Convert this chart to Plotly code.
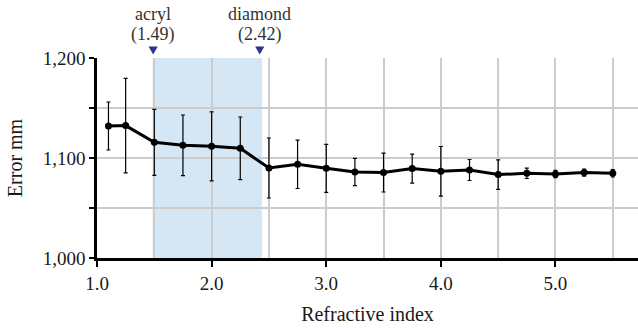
import plotly.graph_objects as go

# Refractive index sweep and measured error (mm) with standard deviation
refractive_index = [1.1, 1.25, 1.5, 1.75, 2.0, 2.25, 2.5, 2.75, 3.0, 3.25, 3.5,
                    3.75, 4.0, 4.25, 4.5, 4.75, 5.0, 5.25, 5.5]
error_mm = [1132.0, 1132.4, 1115.7, 1112.7, 1111.7, 1109.7, 1090.0, 1093.7, 1089.7,
            1086.0, 1085.4, 1089.4, 1086.7, 1088.0, 1083.4, 1084.7, 1084.0, 1085.4, 1084.7]
error_sd = [24.0, 47.2, 33.0, 30.3, 34.5, 31.3, 30.0, 24.2, 24.0,
            13.7, 19.4, 14.5, 24.8, 10.5, 14.7, 5.2, 3.7, 3.5, 3.7]

# Reference materials marked above the plot
materials = ["acryl", "diamond"]
material_index = [1.49, 2.42]
band_range = [1.485, 2.44]

x_tickvals = [1.0, 2.0, 3.0, 4.0, 5.0]
x_ticktext = ["1.0", "2.0", "3.0", "4.0", "5.0"]
y_tickvals = [1000, 1050, 1100, 1150, 1200]
y_ticktext = ["1,000", "", "1,100", "", "1,200"]

FONT = "Liberation Serif"
GRID = "#cccccc"
MARK_BLUE = "#2E3192"

fig = go.Figure()

fig.add_trace(go.Scatter(
    x=refractive_index, y=error_mm,
    mode="lines+markers",
    line=dict(color="black", width=3),
    marker=dict(color="black", size=7),
    error_y=dict(type="data", array=error_sd, visible=True,
                 color="black", thickness=1.2, width=2),
    showlegend=False,
))

# Shaded band between the two reference materials
fig.add_shape(type="rect", xref="x", yref="paper",
              x0=band_range[0], x1=band_range[1], y0=0, y1=1,
              fillcolor="#d5e7f5", line=dict(width=0), layer="below")

# Downward triangle + two-line label above each material's index
tri_half_w = 0.04      # half width in x units
tri_top, tri_bot = 1.058, 1.018   # paper y
for name, n in zip(materials, material_index):
    fig.add_shape(type="path", xref="x", yref="paper",
                  path=f"M {n - tri_half_w} {tri_top} L {n + tri_half_w} {tri_top} L {n} {tri_bot} Z",
                  fillcolor=MARK_BLUE, line=dict(width=0), layer="above")
    fig.add_annotation(x=n, xref="x", y=1.222, yref="paper",
                       text=name, showarrow=False, borderpad=0,
                       yanchor="middle", xanchor="center",
                       font=dict(family=FONT, size=18, color="#333333"))
    fig.add_annotation(x=n, xref="x", y=1.118, yref="paper",
                       text=f"({n:.2f})", showarrow=False, borderpad=0,
                       yanchor="middle", xanchor="center",
                       font=dict(family=FONT, size=18, color="#333333"))

fig.update_layout(
    width=638, height=329,
    margin=dict(l=97, r=0, t=58, b=71),
    paper_bgcolor="white", plot_bgcolor="white",
    font=dict(family=FONT, size=19, color="#1a1a1a"),
    xaxis=dict(
        range=[1.0, 5.72],
        tickvals=x_tickvals, ticktext=x_ticktext,
        showgrid=True, gridcolor=GRID, gridwidth=1.5,
        minor=dict(dtick=0.5, tick0=1.0, showgrid=True, gridcolor=GRID,
                   gridwidth=1.5, ticks=""),
        showline=True, linecolor="black", linewidth=2.5,
        ticks="outside", ticklen=6, tickcolor="black", tickwidth=1.5,
        zeroline=False,
        title=dict(text="Refractive index", font=dict(size=20), standoff=15),
    ),
    yaxis=dict(
        range=[1000, 1200],
        tickvals=y_tickvals, ticktext=y_ticktext,
        showgrid=True, gridcolor=GRID, gridwidth=1.5,
        showline=True, linecolor="black", linewidth=2.5,
        ticks="outside", ticklen=5, tickcolor="black", tickwidth=1.5,
        zeroline=False,
        title=dict(text="Error mm", font=dict(size=20), standoff=15),
    ),
)

fig.write_html("out.html")
